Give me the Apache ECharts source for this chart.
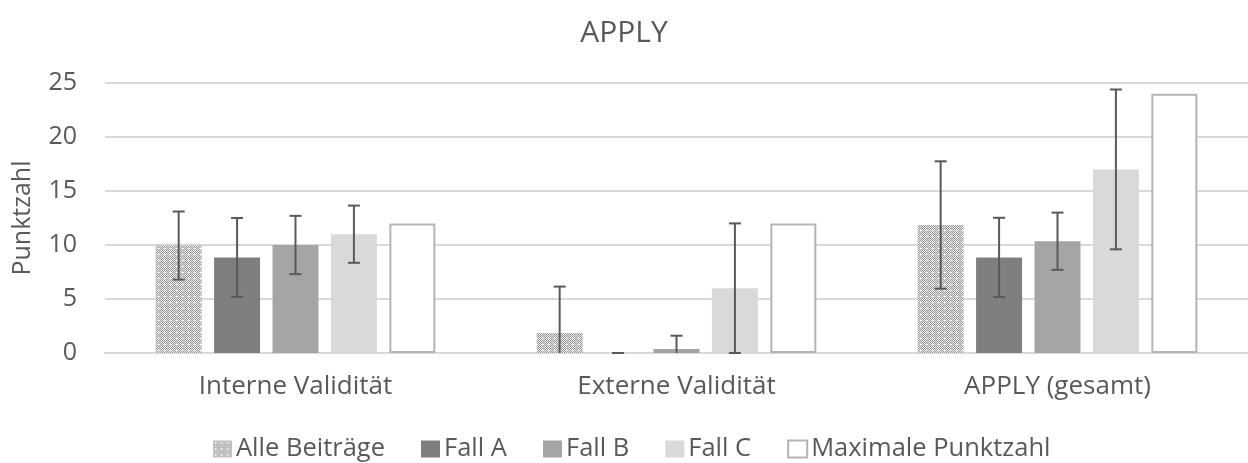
<!DOCTYPE html>
<html>
<head>
<meta charset="utf-8">
<script src="https://cdn.jsdelivr.net/npm/echarts@6/dist/echarts.min.js"></script>
<style>
  html, body { margin: 0; padding: 0; background: #fff; }
  #chart { width: 1248px; height: 463px; }
</style>
</head>
<body>
<div id="chart"></div>
<script>
const categories = ['Interne Validität', 'Externe Validität', 'APPLY (gesamt)'];
const seriesNames = ['Alle Beiträge', 'Fall A', 'Fall B', 'Fall C', 'Maximale Punktzahl'];
const alleBeitraege = [9.95, 1.85, 11.85];
const alleBeitraegeErr = [3.15, 4.3, 5.9];
const fallA = [8.85, 0, 8.85];
const fallAErr = [3.65, 0, 3.67];
const fallB = [10.0, 0.37, 10.35];
const fallBErr = [2.7, 1.23, 2.65];
const fallC = [11.0, 6.0, 17.0];
const fallCErr = [2.65, 6.0, 7.4];
const maxPunktzahl = [12, 12, 24];
const yTicks = [0, 5, 10, 15, 20, 25];

const FONT = 'Open Sans';
const TEXT = '#595959';
const BAR_W = 46;
const BAR_GAP = 0.27;
const STEP = BAR_W * (1 + BAR_GAP);

// checker pattern for "Alle Beiträge"
function makePattern() {
  const c = document.createElement('canvas');
  c.width = 6; c.height = 6;
  const ctx = c.getContext('2d');
  for (let y = 0; y < 6; y++) {
    for (let x = 0; x < 6; x++) {
      ctx.fillStyle = ((x + y) % 2 === 0) ? '#9c9c9c' : '#e6e6e6';
      ctx.fillRect(x, y, 1, 1);
    }
  }
  ctx.fillStyle = '#ffffff';
  ctx.fillRect(2, 2, 2, 1);
  return c;
}
const pattern = { image: makePattern(), repeat: 'repeat' };

const chart = echarts.init(document.getElementById('chart'), null, { renderer: 'canvas' });

function errSeries(values, errs, idx) {
  return {
    type: 'custom',
    name: 'err' + idx,
    silent: true,
    z: 10,
    data: values.map((v, i) => [i, v, errs[i]]),
    renderItem: function (params, api) {
      const c = api.value(0), v = api.value(1), e = api.value(2);
      const x = api.coord([c, v])[0] + (idx - 2) * STEP;
      const yTop = api.coord([c, v + e])[1];
      let low = v - e, lowCap = true;
      if (low < yTicks[0]) { low = yTicks[0]; lowCap = false; }
      const yBot = api.coord([c, low])[1];
      const st = { stroke: '#595959', lineWidth: 2 };
      const children = [
        { type: 'line', shape: { x1: x, y1: yTop, x2: x, y2: yBot }, style: st },
        { type: 'line', shape: { x1: x - 6, y1: yTop, x2: x + 6, y2: yTop }, style: st }
      ];
      if (lowCap) children.push({ type: 'line', shape: { x1: x - 6, y1: yBot, x2: x + 6, y2: yBot }, style: st });
      return { type: 'group', children: children };
    }
  };
}

const barDefs = [
  { name: seriesNames[0], data: alleBeitraege, itemStyle: { color: pattern } },
  { name: seriesNames[1], data: fallA, itemStyle: { color: '#7f7f7f' } },
  { name: seriesNames[2], data: fallB, itemStyle: { color: '#a5a5a5' } },
  { name: seriesNames[3], data: fallC, itemStyle: { color: '#d9d9d9' } },
  { name: seriesNames[4], data: maxPunktzahl, itemStyle: { color: '#ffffff', borderColor: '#b4b4b4', borderWidth: 2 } }
];

const series = barDefs.map(d => ({
  type: 'bar',
  name: d.name,
  data: d.data,
  barWidth: BAR_W,
  barGap: (BAR_GAP * 100) + '%',
  itemStyle: d.itemStyle,
  emphasis: { disabled: true }
}));
series.push(errSeries(alleBeitraege, alleBeitraegeErr, 0));
series.push(errSeries(fallA, fallAErr, 1));
series.push(errSeries(fallB, fallBErr, 2));
series.push(errSeries(fallC, fallCErr, 3));

chart.setOption({
  animation: false,
  backgroundColor: '#ffffff',
  textStyle: { fontFamily: FONT },
  title: {
    text: 'APPLY',
    left: 'center',
    top: 13,
    textStyle: { fontFamily: FONT, fontSize: 30, fontWeight: 'normal', color: TEXT }
  },
  legend: {
    data: seriesNames,
    bottom: -4,
    left: 208,
    itemWidth: 19,
    itemHeight: 17,
    itemGap: 36,
    icon: 'rect',
    textStyle: { fontFamily: FONT, fontSize: 25.5, color: TEXT, padding: [0, 0, 0, -1] }
  },
  grid: { left: 105, right: 0, top: 83, bottom: 110, containLabel: false },
  xAxis: {
    type: 'category',
    data: categories,
    axisLine: { lineStyle: { color: '#d9d9d9', width: 2 } },
    axisTick: { show: false },
    axisLabel: { fontFamily: FONT, fontSize: 26, color: TEXT, margin: 21 }
  },
  yAxis: {
    type: 'value',
    min: yTicks[0],
    max: yTicks[yTicks.length - 1],
    interval: 5,
    name: 'Punktzahl',
    nameLocation: 'middle',
    nameGap: 70,
    nameTextStyle: { fontFamily: FONT, fontSize: 25, color: TEXT },
    axisLine: { show: false },
    axisTick: { show: false },
    splitLine: { lineStyle: { color: '#d9d9d9', width: 2 } },
    axisLabel: { fontFamily: FONT, fontSize: 25, color: TEXT, margin: 28 }
  },
  series: series
});
</script>
</body>
</html>
